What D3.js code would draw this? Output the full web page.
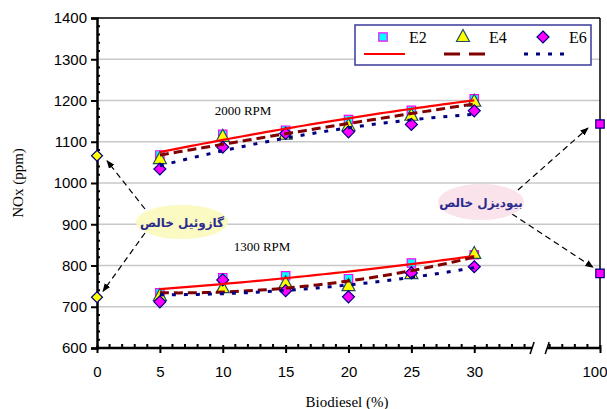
<!DOCTYPE html>
<html>
<head>
<meta charset="utf-8">
<script src="https://cdn.jsdelivr.net/npm/d3@7"></script>
<style>
  body { margin: 0; background: #fff; }
  svg { display: block; }
  .serif { font-family: "Liberation Serif", "Times New Roman", serif; }
  .sans { font-family: "Liberation Sans", Arial, sans-serif; }
</style>
</head>
<body>
<div id="chart"></div>
<script>
// blend ratio (% biodiesel)
const blends = [5, 10, 15, 20, 25, 30];
const xTicks = [0, 5, 10, 15, 20, 25, 30, 40];
const xTickLabels = ["0", "5", "10", "15", "20", "25", "30", "100"];
const yTicks = [600, 700, 800, 900, 1000, 1100, 1200, 1300, 1400];

// NOx (ppm), 2000 rpm
const e2High = [1068, 1118, 1128, 1154, 1176, 1204];
const e4High = [1058, 1112, 1117, 1138, 1163, 1197];
const e6High = [1034, 1087, 1120, 1124, 1142, 1175];
// NOx (ppm), 1300 rpm
const e2Low = [734, 770, 775, 768, 806, 826];
const e4Low = [726, 745, 757, 750, 779, 828];
const e6Low = [712, 765, 739, 724, 782, 797];

// pure fuels: diesel at 0 %, biodiesel at 100 % (drawn at 40 on the axis)
const dieselNox = [1066, 723];
const biodieselNox = [1143, 781];

const W = 607, H = 409;
const x = d3.scaleLinear().domain([0, 40]).range([97, 600]);
const y = d3.scaleLinear().domain([600, 1400]).range([348, 18]);

const svg = d3.select("#chart").append("svg")
  .attr("width", W).attr("height", H);

// gridlines + frame
svg.append("g").selectAll("line")
  .data(yTicks.filter(d => d > 600 && d < 1400))
  .enter().append("line")
  .attr("x1", x(0)).attr("x2", x(40))
  .attr("y1", d => y(d)).attr("y2", d => y(d))
  .attr("stroke", "#c8c8c8").attr("stroke-width", 1.5);

svg.append("line").attr("x1", x(0)).attr("x2", x(40))
  .attr("y1", y(1400)).attr("y2", y(1400)).attr("stroke", "#000").attr("stroke-width", 1.5);
svg.append("line").attr("x1", x(40)).attr("x2", x(40))
  .attr("y1", y(1400)).attr("y2", y(600)).attr("stroke", "#000").attr("stroke-width", 1.5);

// y axis
const yAxis = svg.append("g")
  .attr("transform", `translate(${x(0)},0)`)
  .call(d3.axisLeft(y).tickValues(yTicks).tickSize(6).tickPadding(4).tickFormat(d3.format("d")));
yAxis.attr("font-family", null).attr("font-size", null);
yAxis.select(".domain").attr("stroke-width", 2.5);
yAxis.selectAll(".tick line").attr("stroke-width", 2);
yAxis.selectAll("text").attr("class", "sans").style("font-size", "15px").attr("fill", "#000");
svg.append("g").selectAll("line")
  .data(d3.range(620, 1400, 20).filter(d => d % 100 !== 0))
  .enter().append("line")
  .attr("x1", x(0)).attr("x2", x(0) + 3)
  .attr("y1", d => y(d)).attr("y2", d => y(d))
  .attr("stroke", "#000").attr("stroke-width", 2);

// x axis (with break)
const xAxis = svg.append("g")
  .attr("transform", `translate(0,${y(600)})`)
  .call(d3.axisBottom(x).tickValues(xTicks).tickSize(5).tickPadding(13)
    .tickFormat((d, i) => xTickLabels[i]));
xAxis.attr("font-family", null).attr("font-size", null);
xAxis.select(".domain").remove();
xAxis.selectAll(".tick line").attr("y1", -3).attr("stroke-width", 2);
xAxis.selectAll("text").attr("class", "sans").style("font-size", "15px").attr("fill", "#000");
xAxis.selectAll("text").filter(d => d === 40).attr("text-anchor", "end").attr("x", 7);

const breakA = 34.6, breakB = 35.8;
[[0, breakA], [breakB, 40]].forEach(([a, b]) => {
  svg.append("line").attr("x1", x(a)).attr("x2", x(b))
    .attr("y1", y(600)).attr("y2", y(600))
    .attr("stroke", "#000").attr("stroke-width", 2.5);
});
[breakA, breakB].forEach(b => {
  svg.append("line").attr("x1", x(b) - 2).attr("x2", x(b) + 2)
    .attr("y1", y(600) + 6).attr("y2", y(600) - 6)
    .attr("stroke", "#000").attr("stroke-width", 1.5);
});
svg.append("g").selectAll("line")
  .data(d3.range(1, 40).filter(d => d % 5 !== 0 && (d < breakA || d > breakB)))
  .enter().append("line")
  .attr("x1", d => x(d)).attr("x2", d => x(d))
  .attr("y1", y(600)).attr("y2", y(600) - 4)
  .attr("stroke", "#000").attr("stroke-width", 2);

// axis titles
svg.append("text").attr("class", "serif")
  .attr("x", 347).attr("y", 407)
  .attr("text-anchor", "middle")
  .style("font-size", "15px")
  .text("Biodiesel (%)");
svg.append("text").attr("class", "serif")
  .attr("transform", "rotate(-90)")
  .attr("x", -183).attr("y", 23)
  .attr("text-anchor", "middle")
  .style("font-size", "15px")
  .text("NOx (ppm)");

// quadratic trendline (least squares), like the spreadsheet's poly. trendline
const polyFit = (xs, ys) => {
  const n = xs.length;
  const s = k => d3.sum(xs, v => Math.pow(v, k));
  const t = k => d3.sum(xs, (v, i) => Math.pow(v, k) * ys[i]);
  const A = [[n, s(1), s(2)], [s(1), s(2), s(3)], [s(2), s(3), s(4)]];
  const B = [t(0), t(1), t(2)];
  for (let i = 0; i < 3; i++) {
    for (let j = i + 1; j < 3; j++) {
      const f = A[j][i] / A[i][i];
      for (let k = i; k < 3; k++) A[j][k] -= f * A[i][k];
      B[j] -= f * B[i];
    }
  }
  const c = [0, 0, 0];
  for (let i = 2; i >= 0; i--) {
    let v = B[i];
    for (let k = i + 1; k < 3; k++) v -= A[i][k] * c[k];
    c[i] = v / A[i][i];
  }
  return v => c[0] + c[1] * v + c[2] * v * v;
};

const series = [
  { key: "E2", high: e2High, low: e2Low, shape: "square", color: "#ff0000", dash: null, width: 2.2 },
  { key: "E4", high: e4High, low: e4Low, shape: "triangle", color: "#800000", dash: "9,5", width: 3 },
  { key: "E6", high: e6High, low: e6Low, shape: "diamond", color: "#000080", dash: "4,8", width: 3 }
];

// square-ish diamond (equal width and height)
const diamond = r => `M0,${-r}L${r},0L0,${r}L${-r},0Z`;
const symbolPath = shape => {
  if (shape === "square") return "M-4.2,-4.2H4.2V4.2H-4.2Z";
  if (shape === "triangle") return "M0,-7.5L6.5,4.5H-6.5Z";
  return diamond(6);
};
const symbolStyle = {
  square: { fill: "#00ffff", stroke: "#ff00ff" },
  triangle: { fill: "#ffff00", stroke: "#1f4f5f" },
  diamond: { fill: "#ff00ff", stroke: "#000080" }
};

// markers
series.forEach(s => {
  ["high", "low"].forEach(lvl => {
    svg.append("g").selectAll("path")
      .data(s[lvl])
      .enter().append("path")
      .attr("d", symbolPath(s.shape))
      .attr("transform", (d, i) => `translate(${x(blends[i])},${y(d)})`)
      .attr("fill", symbolStyle[s.shape].fill)
      .attr("stroke", symbolStyle[s.shape].stroke)
      .attr("stroke-width", 1.2);
  });
});

// trendlines
const line = d3.line().x(d => x(d[0])).y(d => y(d[1]));
series.forEach(s => {
  ["high", "low"].forEach(lvl => {
    const f = polyFit(blends, s[lvl]);
    const pts = d3.range(5, 30.01, 0.5).map(v => [v, f(v)]);
    svg.append("path")
      .datum(pts)
      .attr("d", line)
      .attr("fill", "none")
      .attr("stroke", s.color)
      .attr("stroke-width", s.width)
      .attr("stroke-dasharray", s.dash);
  });
});

// pure fuel points
svg.append("g").selectAll("path")
  .data(dieselNox).enter().append("path")
  .attr("d", diamond(5.5))
  .attr("transform", d => `translate(${x(0)},${y(d)})`)
  .attr("fill", "#ffff00").attr("stroke", "#000080").attr("stroke-width", 1.2);
svg.append("g").selectAll("path")
  .data(biodieselNox).enter().append("path")
  .attr("d", "M-4.2,-4.2H4.2V4.2H-4.2Z")
  .attr("transform", d => `translate(${x(40)},${y(d)})`)
  .attr("fill", "#ff00ff").attr("stroke", "#000080").attr("stroke-width", 1.2);

// rpm labels
svg.append("text").attr("class", "serif").attr("x", 243).attr("y", 115).attr("text-anchor", "middle")
  .style("font-size", "13px").text("2000 RPM");
svg.append("text").attr("class", "serif").attr("x", 262).attr("y", 251).attr("text-anchor", "middle")
  .style("font-size", "13px").text("1300 RPM");

// callouts
svg.append("defs").append("marker")
  .attr("id", "arrow").attr("viewBox", "0 0 10 10")
  .attr("refX", 9).attr("refY", 5)
  .attr("markerWidth", 7).attr("markerHeight", 7)
  .attr("orient", "auto")
  .append("path").attr("d", "M0,1 L10,5 L0,9 Z").attr("fill", "#000");

const arrow = (x1, y1, x2, y2) => svg.append("line")
  .attr("x1", x1).attr("y1", y1).attr("x2", x2).attr("y2", y2)
  .attr("stroke", "#000").attr("stroke-width", 1.2)
  .attr("stroke-dasharray", "6,4")
  .attr("marker-end", "url(#arrow)");

arrow(145, 209, x(0) + 10, y(dieselNox[0]) + 5);
arrow(145, 233, x(0) + 6, y(dieselNox[1]) - 6);
arrow(518, 190, x(40) - 12, y(biodieselNox[0]) + 4);
arrow(512, 214, x(40) - 7, y(biodieselNox[1]) - 6);

svg.append("ellipse").attr("cx", 182).attr("cy", 222).attr("rx", 46).attr("ry", 17)
  .attr("fill", "#fafac2");
svg.append("text").attr("x", 182).attr("y", 227).attr("text-anchor", "middle")
  .style("font-family", "'DejaVu Sans', sans-serif").style("font-size", "12px")
  .style("font-weight", "bold").attr("fill", "#2b2b8c")
  .text("گازوئیل خالص");

svg.append("ellipse").attr("cx", 481).attr("cy", 202).attr("rx", 43).attr("ry", 18)
  .attr("fill", "#fbe3ec");
svg.append("text").attr("x", 481).attr("y", 207).attr("text-anchor", "middle")
  .style("font-family", "'DejaVu Sans', sans-serif").style("font-size", "12px")
  .style("font-weight", "bold").attr("fill", "#2b2b8c")
  .text("بیودیزل خالص");

// legend
const legend = svg.append("g");
legend.append("rect").attr("x", 355).attr("y", 25).attr("width", 236).attr("height", 40)
  .attr("fill", "#fff").attr("stroke", "#3a3a9a").attr("stroke-width", 1.5);
const lgX = [383, 463, 543];
series.forEach((s, i) => {
  legend.append("path").attr("d", symbolPath(s.shape))
    .attr("transform", `translate(${lgX[i]},37)`)
    .attr("fill", symbolStyle[s.shape].fill)
    .attr("stroke", symbolStyle[s.shape].stroke)
    .attr("stroke-width", 1.2);
  legend.append("text").attr("class", "serif").attr("x", lgX[i] + 26).attr("y", 43)
    .style("font-size", "16px")
    .text(s.key);
  legend.append("line")
    .attr("x1", lgX[i] - 19).attr("x2", lgX[i] + 22)
    .attr("y1", 54).attr("y2", 54)
    .attr("stroke", s.color).attr("stroke-width", s.width)
    .attr("stroke-dasharray", i === 1 ? "16,9" : s.dash);
});
</script>
</body>
</html>
